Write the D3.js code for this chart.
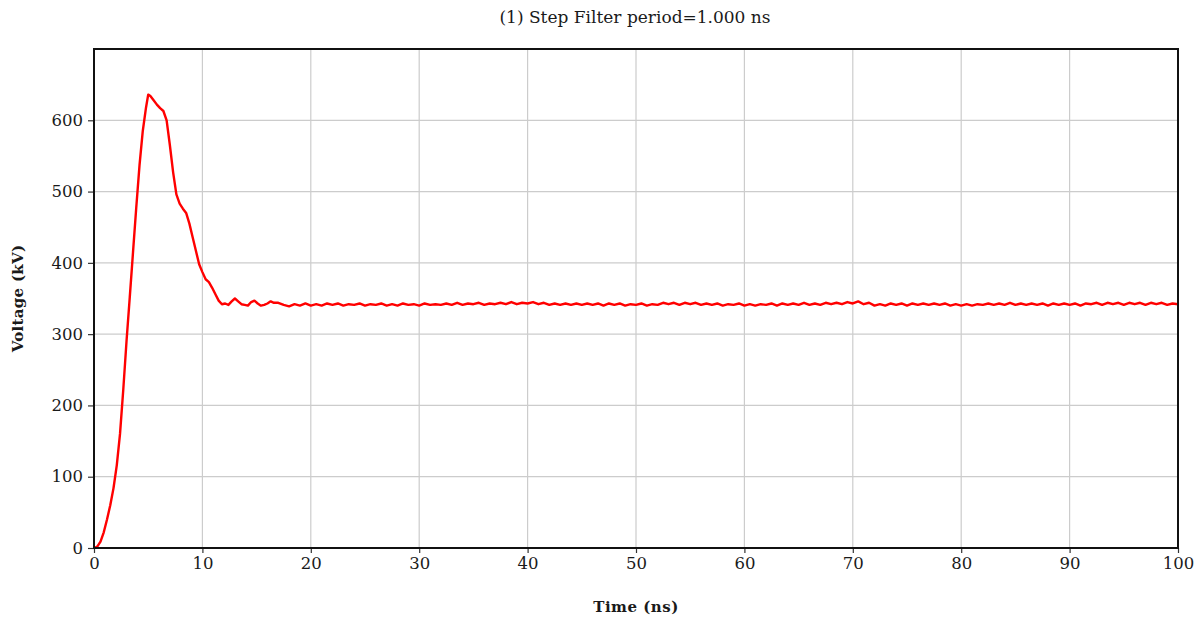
<!DOCTYPE html>
<html>
<head>
<meta charset="utf-8">
<script src="https://cdn.jsdelivr.net/npm/d3@7"></script>
<style>
  html, body { margin: 0; padding: 0; background: #fff; }
  svg text { font-family: "DejaVu Serif", "Liberation Serif", serif; fill: #1a1a1a; }
</style>
</head>
<body>
<svg id="chart" width="1202" height="620"></svg>
<script>
// Leading edge of the pulse: time (ns) and voltage (kV)
const riseTime = [0, 0.3, 0.6, 0.9, 1.2, 1.5, 1.8, 2.1, 2.4, 2.7, 3.0, 3.3, 3.6, 3.9, 4.2, 4.5, 4.8, 5.0,
  5.2, 5.5, 5.8, 6.1, 6.4, 6.7, 7.0, 7.3, 7.6, 7.9, 8.2, 8.5, 8.8, 9.1, 9.4, 9.7, 10.0, 10.3, 10.6,
  10.9, 11.2, 11.5, 11.8, 12.1, 12.4, 12.7, 13.0, 13.3, 13.6, 13.9, 14.2, 14.5, 14.8, 15.1, 15.4,
  15.7, 16.0, 16.3, 16.6];
const riseVolt = [0, 2, 9, 22, 40, 60, 84, 116, 160, 222, 290, 352, 415, 478, 537, 585, 618, 636,
  634, 628, 622, 617, 613, 600, 565, 527, 496, 483, 476, 470, 455, 436, 417, 398, 387, 377, 373,
  365, 356, 347, 342, 343, 341, 346, 350, 346, 342, 341, 340, 345, 347, 343, 340,
  341, 343, 346, 344];

// Settled level, sampled every 0.5 ns from 17 ns to 100 ns
const plateauStart = 17;
const plateauStep = 0.5;
const plateauVolt = [
  344, 341, 339, 342, 340, 343, 340, 342, 340, 343,
  341, 343, 340, 342, 341, 343, 340, 342, 341, 343,
  340, 342, 340, 343, 341, 342, 340, 343, 341, 342,
  341, 343, 341, 344, 341, 343, 342, 344, 341, 343,
  342, 344, 342, 345, 342, 344, 343, 345, 342, 344,
  341, 343, 341, 343, 341, 343, 341, 343, 341, 343,
  340, 343, 341, 343, 340, 342, 341, 343, 340, 342,
  341, 344, 342, 344, 341, 344, 342, 344, 341, 343,
  341, 343, 340, 342, 341, 343, 340, 342, 340, 342,
  341, 343, 340, 343, 341, 343, 341, 344, 341, 343,
  341, 344, 342, 344, 342, 345, 343, 346, 342, 344,
  340, 342, 340, 343, 341, 343, 340, 343, 341, 343,
  341, 343, 341, 343, 340, 342, 340, 342, 340, 342,
  341, 343, 341, 343, 341, 344, 341, 343, 341, 343,
  341, 343, 340, 343, 341, 343, 341, 343, 340, 343,
  342, 344, 341, 344, 342, 344, 341, 344, 342, 344,
  341, 344, 342, 344, 341, 343, 342
];

const xTicks = [0, 10, 20, 30, 40, 50, 60, 70, 80, 90, 100];
const yTicks = [0, 100, 200, 300, 400, 500, 600];

const titleText = "(1) Step Filter period=1.000 ns";
const xTitle = "Time (ns)";
const yTitle = "Voltage (kV)";

const points = riseTime.map((t, i) => ({ t, v: riseVolt[i] }))
  .concat(plateauVolt.map((v, i) => ({ t: plateauStart + i * plateauStep, v })));

const svg = d3.select("#chart");
const plotLeft = 94, plotRight = 1178, plotTop = 49, plotBottom = 548;

const x = d3.scaleLinear().domain([0, 100]).range([plotLeft, plotRight]);
const y = d3.scaleLinear().domain([0, 700]).range([plotBottom, plotTop]);

// grid
svg.append("g").selectAll("line").data(xTicks.slice(1, -1)).join("line")
  .attr("x1", d => x(d)).attr("x2", d => x(d))
  .attr("y1", plotTop).attr("y2", plotBottom)
  .attr("stroke", "#cccccc").attr("stroke-width", 1.2);
svg.append("g").selectAll("line").data(yTicks.slice(1)).join("line")
  .attr("x1", plotLeft).attr("x2", plotRight)
  .attr("y1", d => y(d)).attr("y2", d => y(d))
  .attr("stroke", "#cccccc").attr("stroke-width", 1.2);

// axes
const xAxis = svg.append("g").attr("transform", `translate(0,${plotBottom})`)
  .call(d3.axisBottom(x).tickValues(xTicks).tickSize(5).tickPadding(4).tickFormat(d3.format("d")));
const yAxis = svg.append("g").attr("transform", `translate(${plotLeft},0)`)
  .call(d3.axisLeft(y).tickValues(yTicks).tickSize(6).tickPadding(5).tickFormat(d3.format("d")));
[xAxis, yAxis].forEach(g => {
  g.select(".domain").remove();
  g.selectAll(".tick line").attr("stroke", "#333").attr("stroke-width", 1.2);
  g.selectAll(".tick text").attr("font-size", 16.5).attr("fill", "#1a1a1a")
    .style("font-family", "'DejaVu Serif', 'Liberation Serif', serif");
});

// data curve
const line = d3.line().x(d => x(d.t)).y(d => y(d.v));
svg.append("path").datum(points)
  .attr("d", line)
  .attr("fill", "none")
  .attr("stroke", "#ff0000")
  .attr("stroke-width", 2.4)
  .attr("stroke-linejoin", "round");

// frame
svg.append("rect")
  .attr("x", plotLeft).attr("y", plotTop)
  .attr("width", plotRight - plotLeft).attr("height", plotBottom - plotTop)
  .attr("fill", "none").attr("stroke", "#111").attr("stroke-width", 2);

// titles
svg.append("text").attr("x", 635).attr("y", 23)
  .attr("text-anchor", "middle").attr("font-size", 17).text(titleText);
svg.append("text").attr("x", 636).attr("y", 612)
  .attr("text-anchor", "middle").attr("font-size", 15).attr("font-weight", "bold")
  .attr("letter-spacing", 0.5).text(xTitle);
svg.append("text")
  .attr("transform", `translate(23,${(plotTop + plotBottom) / 2}) rotate(-90)`)
  .attr("text-anchor", "middle").attr("font-size", 15).attr("font-weight", "bold")
  .attr("letter-spacing", 0.3).text(yTitle);
</script>
</body>
</html>
